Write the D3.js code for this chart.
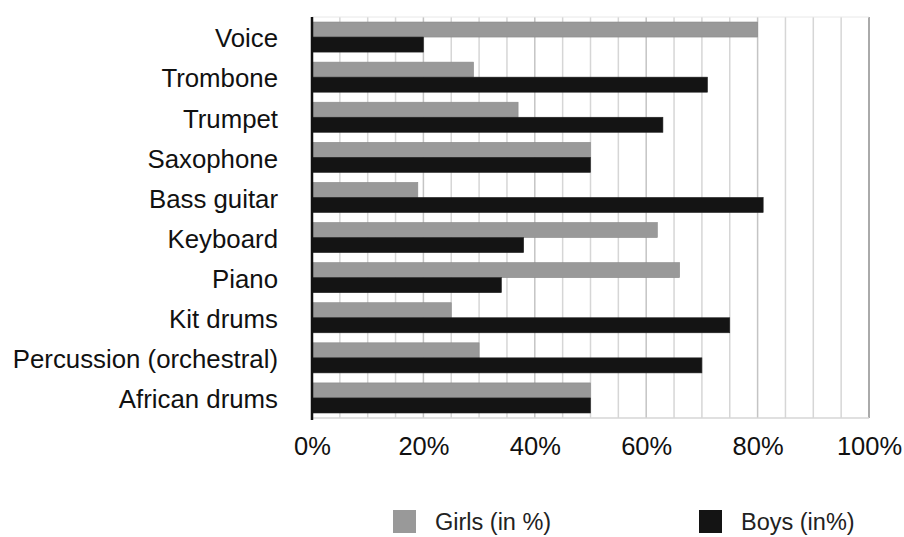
<!DOCTYPE html>
<html>
<head>
<meta charset="utf-8">
<script src="https://cdn.jsdelivr.net/npm/d3@7"></script>
<style>
  body { margin: 0; background: #fff; }
  svg { display: block; font-family: "Liberation Sans", Arial, Helvetica, sans-serif; }
</style>
</head>
<body>
<svg id="chart" width="904" height="537"></svg>
<script>
// Instrument choice by gender
const instruments = ["Voice", "Trombone", "Trumpet", "Saxophone", "Bass guitar",
  "Keyboard", "Piano", "Kit drums", "Percussion (orchestral)", "African drums"];
const girls = [80, 29, 37, 50, 19, 62, 66, 25, 30, 50];
const boys  = [20, 71, 63, 50, 81, 38, 34, 75, 70, 50];
const seriesNames = ["Girls (in %)", "Boys (in%)"];
const seriesColors = ["#999999", "#141414"];
const xTicks = [0, 20, 40, 60, 80, 100];

const svg = d3.select("#chart");
const margin = { left: 312, right: 35, top: 17, bottom: 119 };
const W = 904, H = 537;
const x = d3.scaleLinear().domain([0, 100]).range([margin.left, W - margin.right]);
const y = d3.scaleBand().domain(instruments).range([margin.top, H - margin.bottom]).paddingInner(0.25).paddingOuter(0.125);
const sub = d3.scaleBand().domain([0, 1]).range([0, y.bandwidth()]);

// grid lines every 5%
const grid = d3.range(5, 101, 5);
svg.append("g").selectAll("line").data(grid).join("line")
  .attr("x1", d => x(d)).attr("x2", d => x(d))
  .attr("y1", margin.top).attr("y2", H - margin.bottom)
  .attr("stroke", d => d === 100 ? "#aaa" : (d % 20 === 0 ? "#c4c4c4" : "#d6d6d6"))
  .attr("stroke-width", d => d === 100 ? 2 : 1.5);
// top & bottom frame lines
svg.append("line").attr("x1", x(0)).attr("x2", x(100)).attr("y1", margin.top).attr("y2", margin.top)
  .attr("stroke", "#e8e8e8").attr("stroke-width", 1);
svg.append("line").attr("x1", x(0)).attr("x2", x(100)).attr("y1", H - margin.bottom).attr("y2", H - margin.bottom)
  .attr("stroke", "#d6d6d6").attr("stroke-width", 1.5);

// bars
const rows = instruments.map((name, i) => ({ name, vals: [girls[i], boys[i]] }));
const g = svg.append("g").selectAll("g").data(rows).join("g")
  .attr("transform", d => `translate(0,${y(d.name)})`);
g.selectAll("rect").data(d => d.vals.map((v, k) => ({ v, k }))).join("rect")
  .attr("x", x(0))
  .attr("y", d => sub(d.k))
  .attr("width", d => x(d.v) - x(0))
  .attr("height", sub.bandwidth())
  .attr("fill", d => seriesColors[d.k])
  .attr("stroke", d => d.k === 0 ? "#8a8a8a" : "#222")
  .attr("stroke-width", 0.6);

// left axis line
svg.append("line").attr("x1", x(0)).attr("x2", x(0))
  .attr("y1", margin.top).attr("y2", H - margin.bottom + 2)
  .attr("stroke", "#111").attr("stroke-width", 2.5);

// category labels
const yAxis = d3.axisLeft(y).tickSize(0).tickPadding(34);
const ya = svg.append("g").attr("transform", `translate(${x(0)},0)`).call(yAxis);
ya.select(".domain").remove();
ya.selectAll("text").attr("font-size", 25.8).attr("fill", "#111").attr("dy", "0.4em")
  .attr("font-family", "'Liberation Sans', Arial, sans-serif");

// x tick labels
const xAxis = d3.axisBottom(x).tickValues(xTicks).tickFormat(d => d + "%").tickSize(0).tickPadding(19);
const xa = svg.append("g").attr("transform", `translate(0,${H - margin.bottom})`).call(xAxis);
xa.select(".domain").remove();
xa.selectAll("text").attr("font-size", 25.5).attr("fill", "#111")
  .attr("font-family", "'Liberation Sans', Arial, sans-serif");

// legend
const legendX = [393, 699];
const lg = svg.append("g").selectAll("g").data(seriesNames).join("g")
  .attr("transform", (d, i) => `translate(${legendX[i]},510)`);
lg.append("rect").attr("width", 23).attr("height", 23)
  .attr("fill", (d, i) => seriesColors[i]);
lg.append("text").attr("x", 42).attr("y", 20)
  .attr("font-size", 23.5).attr("fill", "#222").text(d => d);
</script>
</body>
</html>
